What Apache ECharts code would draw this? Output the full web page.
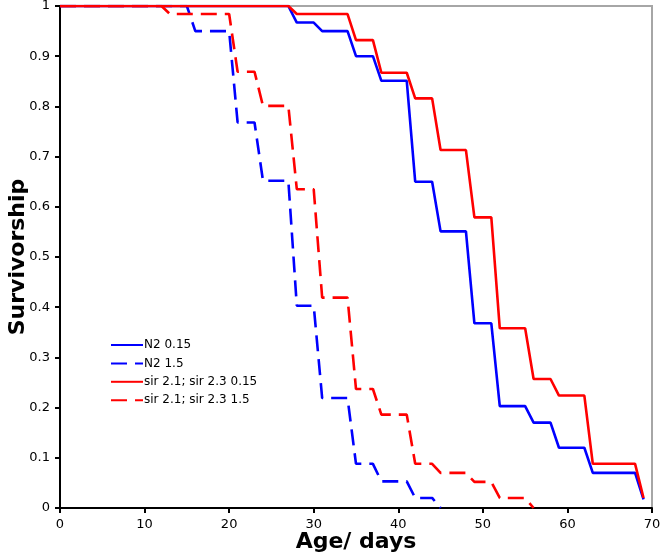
<!DOCTYPE html>
<html>
<head>
<meta charset="utf-8">
<script src="https://cdn.jsdelivr.net/npm/echarts@6/dist/echarts.min.js"></script>
<style>
html,body{margin:0;padding:0;background:#fff;}
#chart{width:661px;height:560px;}
</style>
</head>
<body>
<div id="chart"></div>
<script>
// Series names
const seriesNames = ["N2 0.15", "N2 1.5", "sir 2.1; sir 2.3 0.15", "sir 2.1; sir 2.3 1.5"];

// N2 0.15
const n2LowDays = [0, 27, 28, 30, 31, 34, 35, 37, 38, 41, 42, 44, 45, 48, 49, 51, 52, 55, 56, 58, 59, 62, 63, 68, 69];
const n2LowSurv = [1, 1, 0.967, 0.967, 0.95, 0.95, 0.9, 0.9, 0.851, 0.851, 0.65, 0.65, 0.551, 0.551, 0.368, 0.368, 0.203, 0.203, 0.17, 0.17, 0.12, 0.12, 0.07, 0.07, 0.017];

// N2 1.5
const n2HighDays = [0, 15, 16, 20, 21, 23, 24, 27, 28, 30, 31, 34, 35, 37, 38, 41, 42, 44, 45];
const n2HighSurv = [1, 1, 0.95, 0.95, 0.768, 0.768, 0.652, 0.652, 0.403, 0.403, 0.219, 0.219, 0.088, 0.088, 0.053, 0.053, 0.02, 0.02, 0];

// sir 2.1; sir 2.3 0.15
const sirLowDays = [0, 27, 28, 34, 35, 37, 38, 41, 42, 44, 45, 48, 49, 51, 52, 55, 56, 58, 59, 62, 63, 68, 69];
const sirLowSurv = [1, 1, 0.984, 0.984, 0.932, 0.932, 0.867, 0.867, 0.816, 0.816, 0.713, 0.713, 0.579, 0.579, 0.358, 0.358, 0.257, 0.257, 0.224, 0.224, 0.088, 0.088, 0.02];

// sir 2.1; sir 2.3 1.5
const sirHighDays = [0, 12, 13, 20, 21, 23, 24, 27, 28, 30, 31, 34, 35, 37, 38, 41, 42, 44, 45, 48, 49, 51, 52, 55, 56];
const sirHighSurv = [1, 1, 0.984, 0.984, 0.869, 0.869, 0.801, 0.801, 0.635, 0.635, 0.419, 0.419, 0.237, 0.237, 0.186, 0.186, 0.088, 0.088, 0.07, 0.07, 0.052, 0.052, 0.02, 0.02, 0];

function zip(xs, ys) { return xs.map((x, i) => [x, ys[i]]); }

const FONT = "DejaVu Sans";
const BLUE = "#0000ff";
const RED = "#ff0000";

const chart = echarts.init(document.getElementById('chart'), null, {renderer: 'canvas'});

function mk(name, data, color, dashed) {
  return {
    name: name,
    type: 'line',
    data: data,
    symbol: 'none',
    showSymbol: false,
    animation: false,
    lineStyle: { color: color, width: 2.6, type: dashed ? [16, 8] : 'solid', cap: 'butt' },
    itemStyle: { color: color }
  };
}

chart.setOption({
  animation: false,
  backgroundColor: '#ffffff',
  grid: {
    left: 60, right: 9, top: 6, bottom: 52,
    outerBoundsMode: 'none',
    containLabel: false,
    show: true, borderColor: '#a6a6a6', borderWidth: 2, backgroundColor: 'transparent'
  },
  legend: {
    orient: 'vertical',
    left: 110, top: 339, padding: 0,
    itemWidth: 32, itemHeight: 14, itemGap: 6.4,
    data: seriesNames,
    itemStyle: { opacity: 0 },
    textStyle: { fontFamily: FONT, fontSize: 12, color: '#000', padding: [0, 0, 0, -4] }
  },
  xAxis: {
    type: 'value', min: 0, max: 70, interval: 10,
    name: 'Age/ days', nameLocation: 'middle', nameGap: 23, nameMoveOverlap: false,
    nameTextStyle: { fontFamily: FONT, fontSize: 22, fontWeight: 'bold', color: '#000' },
    axisLine: { show: true, onZero: false, lineStyle: { color: '#000', width: 2 } },
    axisTick: { show: true, length: 5, lineStyle: { color: '#000', width: 2 } },
    axisLabel: { fontFamily: FONT, fontSize: 13, color: '#000', margin: 10 },
    splitLine: { show: false }
  },
  yAxis: {
    type: 'value', min: 0, max: 1, interval: 0.1,
    name: 'Survivorship', nameLocation: 'middle', nameGap: 31, nameMoveOverlap: false,
    nameTextStyle: { fontFamily: FONT, fontSize: 22, fontWeight: 'bold', color: '#000' },
    axisLine: { show: true, onZero: false, lineStyle: { color: '#000', width: 2 } },
    axisTick: { show: true, length: 5, lineStyle: { color: '#000', width: 2 } },
    axisLabel: { fontFamily: FONT, fontSize: 13, color: '#000', margin: 10 },
    splitLine: { show: false }
  },
  series: [
    mk(seriesNames[0], zip(n2LowDays, n2LowSurv), BLUE, false),
    mk(seriesNames[1], zip(n2HighDays, n2HighSurv), BLUE, true),
    mk(seriesNames[2], zip(sirLowDays, sirLowSurv), RED, false),
    mk(seriesNames[3], zip(sirHighDays, sirHighSurv), RED, true)
  ]
});
</script>
</body>
</html>
